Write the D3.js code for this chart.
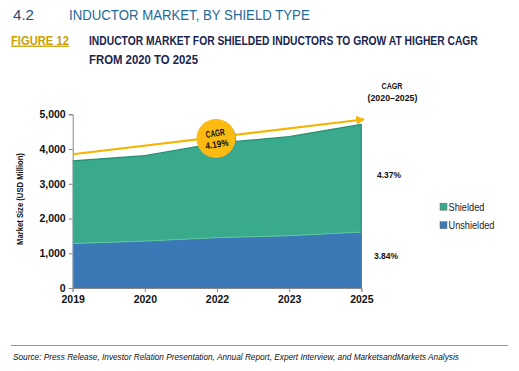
<!DOCTYPE html>
<html>
<head>
<meta charset="utf-8">
<script src="https://cdn.jsdelivr.net/npm/d3@7/dist/d3.min.js"></script>
<style>
body{margin:0;background:#fff;}
svg{display:block;}
</style>
</head>
<body>
<svg id="c" width="519" height="371"></svg>
<script>
const years = ["2019","2020","2022","2023","2025"];
const unshielded = [1280, 1350, 1450, 1505, 1610];
const shielded = [2380, 2458, 2720, 2850, 3102];
const yTicks = [0, 1000, 2000, 3000, 4000, 5000];
const seriesNames = ["Shielded", "Unshielded"];
const seriesCagr = ["4.37%", "3.84%"];
const overallCagr = "4.19%";
const arrowValues = [3850, 4850]; // start (2019) and end (2025) of the CAGR arrow

const svg = d3.select("#c");
const sans = "'Liberation Sans',Arial,sans-serif";

// text helper: draws text and horizontally condenses it to a target width
function txt(parent, x, y, s, o) {
  const g = parent.append("g").attr("transform", `translate(${x},${y})`);
  const t = g.append("text").attr("font-family", sans)
    .attr("font-size", o.size || 10).attr("fill", o.fill || "#111").text(s);
  if (o.bold) t.attr("font-weight", "bold");
  if (o.italic) t.attr("font-style", "italic");
  if (o.anchor) t.attr("text-anchor", o.anchor);
  if (o.deco) t.attr("text-decoration", o.deco);
  if (o.len) {
    const w = t.node().getComputedTextLength();
    if (w > 0) g.attr("transform", `translate(${x},${y}) scale(${o.len / w},1)`);
  }
  return t;
}

// Header
txt(svg, 13, 20, "4.2", {size:15, fill:"#1d4f7a", len:21});
txt(svg, 69, 20, "INDUCTOR MARKET, BY SHIELD TYPE", {size:15.5, fill:"#1f6a98", len:241});
txt(svg, 11, 44.5, "FIGURE 12", {size:13, bold:true, fill:"#c9a000", deco:"underline", len:58});
txt(svg, 89, 44.5, "INDUCTOR MARKET FOR SHIELDED INDUCTORS TO GROW AT HIGHER CAGR", {size:13.5, bold:true, fill:"#1a2550", len:389});
txt(svg, 89, 63.5, "FROM 2020 TO 2025", {size:13.5, bold:true, fill:"#1a2550", len:109});

// Scales
const x = d3.scalePoint().domain(years).range([72.7, 361.3]);
const y = d3.scaleLinear().domain([0,5000]).range([288, 114.3]);

const data = years.map((yr,i)=>({year:yr, Unshielded:unshielded[i], Shielded:shielded[i]}));
const stack = d3.stack().keys(["Unshielded","Shielded"])(data);
const colors = {Unshielded:"#3b78b6", Shielded:"#3aaa8d"};
const area = d3.area().x(d=>x(d.data.year)).y0(d=>y(d[0])).y1(d=>y(d[1]));
const topLine = d3.line().x(d=>x(d.data.year)).y(d=>y(d[1]));

const g = svg.append("g");
stack.forEach(s=>{
  g.append("path").attr("d",area(s)).attr("fill",colors[s.key]);
});
g.append("path").attr("d",topLine(stack[0])).attr("fill","none").attr("stroke","#5cc79f").attr("stroke-width",1);
g.append("path").attr("d",topLine(stack[1])).attr("fill","none").attr("stroke","#25906f").attr("stroke-width",1.2);
g.append("line").attr("x1",x("2025")).attr("x2",x("2025")).attr("y1",y(0)).attr("y2",y(unshielded[4]+shielded[4]))
  .attr("stroke","#2a7a86").attr("stroke-width",1);

// Axes
const yAxis = d3.axisLeft(y).tickValues(yTicks).tickFormat(d3.format(",")).tickSize(4).tickPadding(3);
const ya = svg.append("g").attr("transform",`translate(${x("2019")},0)`).call(yAxis);
ya.select(".domain").attr("stroke","#888");
ya.selectAll(".tick line").attr("stroke","#888");
ya.selectAll("text").attr("font-family",sans).attr("font-size",10.5).attr("fill","#111").attr("font-weight","bold");

const xAxis = d3.axisBottom(x).tickSize(4).tickPadding(4);
const xa = svg.append("g").attr("transform",`translate(0,${y(0)})`).call(xAxis);
xa.select(".domain").attr("stroke","#888");
xa.selectAll(".tick line").attr("stroke","#888");
xa.selectAll("text").attr("font-family",sans).attr("font-size",10.5).attr("fill","#111").attr("font-weight","bold");

const yl = svg.append("g").attr("transform","translate(23,199) rotate(-90)");
txt(yl, 0, 0, "Market Size (USD Million)", {size:9, bold:true, anchor:"middle", len:92});

// CAGR arrow
const defs = svg.append("defs");
defs.append("marker").attr("id","ah").attr("viewBox","0 0 10 10").attr("refX",8).attr("refY",5)
  .attr("markerWidth",4).attr("markerHeight",4).attr("orient","auto")
  .append("path").attr("d","M0,0 L10,5 L0,10 z").attr("fill","#f5b400");
svg.append("line").attr("x1",x("2019")).attr("y1",y(arrowValues[0]))
  .attr("x2",x("2025")+2).attr("y2",y(arrowValues[1]))
  .attr("stroke","#f5b400").attr("stroke-width",2.2).attr("marker-end","url(#ah)");

// bubble
const bx = 216, by = 138.5;
svg.append("circle").attr("cx",bx+0.6).attr("cy",by+0.8).attr("r",19.5).attr("fill","#2f9ab0");
svg.append("circle").attr("cx",bx).attr("cy",by).attr("r",19.5).attr("fill","#fbbb12");
const bt = svg.append("g").attr("transform",`translate(${bx},${by}) rotate(-9)`);
txt(bt, 0, -2, "CAGR", {size:9.5, bold:true, anchor:"middle", len:19});
txt(bt, 0, 9, overallCagr, {size:9.5, bold:true, anchor:"middle", len:23});

// CAGR header and series CAGR
txt(svg, 392, 89, "CAGR", {size:9, bold:true, anchor:"middle", len:21});
txt(svg, 392.5, 101, "(2020–2025)", {size:9, bold:true, anchor:"middle", len:50});
txt(svg, 389, 177.5, seriesCagr[0], {size:9.5, bold:true, anchor:"middle", len:24});
txt(svg, 386, 259, seriesCagr[1], {size:9.5, bold:true, anchor:"middle", len:24});

// Legend
const lg = svg.append("g");
seriesNames.forEach((n,i)=>{
  const ly = 206.7 + i*18.5;
  lg.append("rect").attr("x",440).attr("y",ly-3.5).attr("width",7).attr("height",7)
    .attr("fill",colors[n]).attr("stroke","#666").attr("stroke-width",0.5);
  txt(lg, 448.5, ly+4, n, {size:10.5, fill:"#222", len: i===0 ? 36 : 46});
});

// Footer
svg.append("line").attr("x1",11).attr("x2",508).attr("y1",345.5).attr("y2",345.5)
  .attr("stroke","#c8922a").attr("stroke-width",1.2);
txt(svg, 13, 360, "Source: Press Release, Investor Relation Presentation, Annual Report, Expert Interview, and MarketsandMarkets Analysis",
  {size:8.3, italic:true, len:447});
</script>
</body>
</html>
